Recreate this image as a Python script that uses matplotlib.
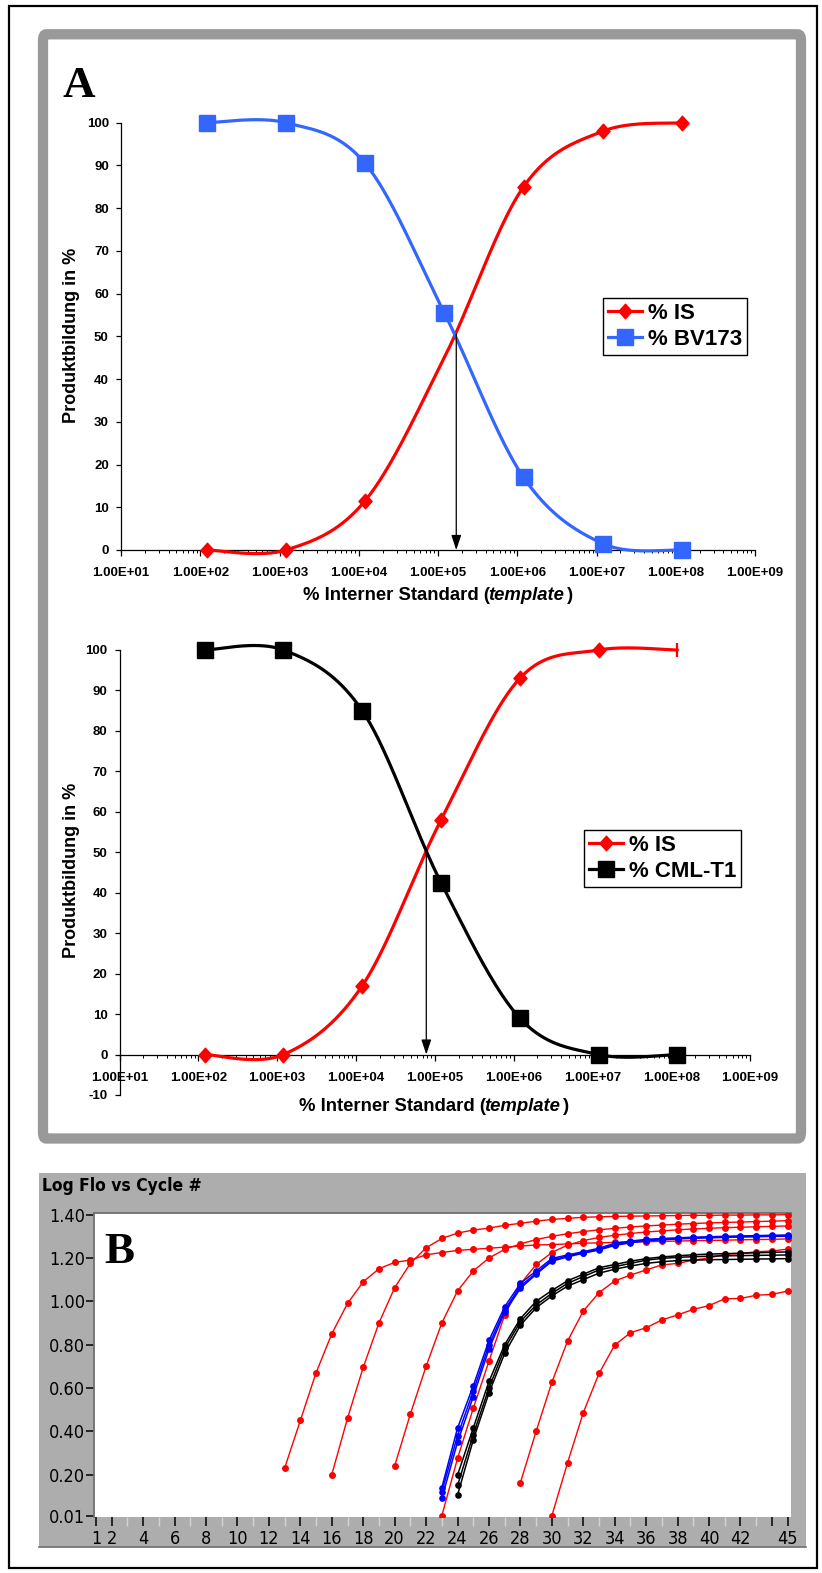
import numpy as np
import matplotlib
matplotlib.use("Agg")
import matplotlib.pyplot as plt
import matplotlib.font_manager as fm
from matplotlib.patches import Rectangle, FancyBboxPatch
from matplotlib.path import Path
from matplotlib.lines import Line2D
from matplotlib.ticker import FixedLocator, FuncFormatter, LogLocator, NullFormatter

W, H, DPI = 822, 1573, 100

# ---------------- data : panel A ----------------
template_x = [1.2e2, 1.2e3, 1.2e4, 1.2e5, 1.2e6, 1.2e7, 1.2e8]
top_is = [0, 0, 11.5, 45, 85, 98, 100]
top_bv173 = [100, 100, 90.5, 55.5, 17, 1.5, 0]
bot_is = [0, 0, 17, 58, 93, 100, 100]
bot_cml = [100, 100, 85, 42.5, 9, 0, 0]
arrow_top_x = 1.7e5
arrow_bot_x = 7.8e4
decade_ticks = [1e1, 1e2, 1e3, 1e4, 1e5, 1e6, 1e7, 1e8, 1e9]
top_yticks = [0, 10, 20, 30, 40, 50, 60, 70, 80, 90, 100]
bot_yticks = [-10, 0, 10, 20, 30, 40, 50, 60, 70, 80, 90, 100]

# ---------------- data : panel B ----------------
red_starts = [13, 16, 20, 23, 28, 30]
red_curves = [
    [0.23, 0.45, 0.67, 0.85, 0.99, 1.09, 1.15, 1.18, 1.19, 1.215, 1.225, 1.235, 1.24, 1.245,
     1.25, 1.255, 1.26, 1.262, 1.265, 1.268, 1.27, 1.272, 1.274, 1.275, 1.277, 1.278, 1.28,
     1.281, 1.282, 1.284, 1.285, 1.286, 1.288],
    [0.20, 0.46, 0.695, 0.90, 1.063, 1.175, 1.247, 1.29, 1.315, 1.329, 1.338, 1.351, 1.36,
     1.37, 1.378, 1.383, 1.388, 1.39, 1.392, 1.393, 1.394, 1.395, 1.396, 1.397, 1.397, 1.398,
     1.398, 1.399, 1.399, 1.40],
    [0.24, 0.48, 0.70, 0.90, 1.048, 1.14, 1.20, 1.24, 1.265, 1.285, 1.30, 1.312, 1.322, 1.33,
     1.337, 1.343, 1.348, 1.352, 1.356, 1.359, 1.362, 1.364, 1.366, 1.368, 1.37, 1.372],
    [0.01, 0.275, 0.506, 0.724, 0.937, 1.08, 1.17, 1.225, 1.26, 1.28, 1.295, 1.305, 1.313,
     1.32, 1.325, 1.33, 1.334, 1.337, 1.34, 1.342, 1.344, 1.346, 1.348],
    [0.163, 0.40, 0.626, 0.817, 0.955, 1.04, 1.094, 1.121, 1.145, 1.168, 1.175, 1.19, 1.20,
     1.217, 1.22, 1.229, 1.232, 1.241],
    [0.01, 0.255, 0.486, 0.667, 0.798, 0.855, 0.878, 0.914, 0.937, 0.963, 0.98, 1.012, 1.013,
     1.028, 1.032, 1.047],
]
blue_start = 23
blue_curves = [
    [0.14, 0.415, 0.61, 0.82, 0.975, 1.083, 1.14, 1.198, 1.214, 1.229, 1.245, 1.268, 1.278,
     1.286, 1.29, 1.293, 1.296, 1.298, 1.30, 1.302, 1.303, 1.305, 1.306],
    [0.12, 0.38, 0.585, 0.80, 0.96, 1.07, 1.13, 1.19, 1.21, 1.225, 1.24, 1.262, 1.274, 1.282,
     1.287, 1.29, 1.293, 1.295, 1.297, 1.299, 1.30, 1.302, 1.303],
    [0.09, 0.35, 0.56, 0.78, 0.95, 1.06, 1.125, 1.185, 1.205, 1.222, 1.237, 1.258, 1.27,
     1.279, 1.284, 1.288, 1.291, 1.293, 1.295, 1.297, 1.298, 1.30, 1.30],
]
black_start = 24
black_curves = [
    [0.198, 0.415, 0.63, 0.80, 0.92, 1.0, 1.05, 1.095, 1.125, 1.155, 1.17, 1.185, 1.197,
     1.205, 1.21, 1.215, 1.218, 1.22, 1.222, 1.224, 1.226, 1.228],
    [0.15, 0.385, 0.60, 0.783, 0.906, 0.983, 1.037, 1.083, 1.114, 1.145, 1.16, 1.175, 1.19,
     1.198, 1.203, 1.206, 1.208, 1.21, 1.211, 1.212, 1.213, 1.214],
    [0.106, 0.36, 0.577, 0.76, 0.89, 0.97, 1.025, 1.07, 1.10, 1.13, 1.148, 1.163, 1.175,
     1.183, 1.188, 1.19, 1.192, 1.193, 1.194, 1.195, 1.196, 1.197],
]
B_yticks = [0.01, 0.20, 0.40, 0.60, 0.80, 1.00, 1.20, 1.40]
B_ytick_labels = ["0.01", "0.20", "0.40", "0.60", "0.80", "1.00", "1.20", "1.40"]
B_xticks = [1, 2, 4, 6, 8, 10, 12, 14, 16, 18, 20, 22, 24, 26, 28, 30, 32, 34, 36, 38, 40,
            42, 44, 45]
B_xtick_labels = ["1", "2", "4", "6", "8", "10", "12", "14", "16", "18", "20", "22", "24",
                  "26", "28", "30", "32", "34", "36", "38", "40", "42", "", "45"]
B_minor_xticks = [3, 5, 7, 9, 11, 13, 15, 17, 19, 21, 23, 25, 27, 29, 31, 33, 35, 37, 39, 41, 43]

# ---------------- fonts ----------------
fonts = fm.fontManager.ttflist
names = {f.name for f in fonts}
SANS = "Liberation Sans" if "Liberation Sans" in names else "DejaVu Sans"
SERIF = "Liberation Serif" if "Liberation Serif" in names else "DejaVu Serif"
if "Liberation Sans Narrow" in names:
    NARROW, NSTRETCH = "Liberation Sans Narrow", "normal"
elif any(f.name == "DejaVu Sans" and f.stretch == "condensed" for f in fonts):
    NARROW, NSTRETCH = "DejaVu Sans", "condensed"
else:
    NARROW, NSTRETCH = SANS, "normal"
plt.rcParams["font.family"] = [SANS, "DejaVu Sans"]
plt.rcParams["axes.unicode_minus"] = False

RED = "#FF0000"
BLUE_A = "#3366FF"
DIAMOND = Path([(0, -1), (0.9, 0), (0, 1), (-0.9, 0), (0, -1)],
               [Path.MOVETO, Path.LINETO, Path.LINETO, Path.LINETO, Path.CLOSEPOLY])
MS_D, MS_S = 10.5, 11.3


def fx(px):
    return px / W


def fy(py):
    return 1 - py / H


def excel_smooth(x, y, n=40):
    P = np.column_stack([np.log10(np.asarray(x, float)), np.asarray(y, float)])
    out = [P[0]]
    t = np.linspace(0, 1, n)[1:, None]
    for i in range(len(P) - 1):
        p0 = P[i - 1] if i > 0 else P[i]
        p1, p2 = P[i], P[i + 1]
        p3 = P[i + 2] if i + 2 < len(P) else P[i + 1]
        c1 = p1 + (p2 - p0) / 6
        c2 = p2 - (p3 - p1) / 6
        B = (1 - t) ** 3 * p1 + 3 * (1 - t) ** 2 * t * c1 + 3 * (1 - t) * t ** 2 * c2 + t ** 3 * p2
        out.extend(B)
    out = np.array(out)
    return 10 ** out[:, 0], out[:, 1]


fig = plt.figure(figsize=(W / DPI, H / DPI), dpi=DPI)
fig.patch.set_facecolor("white")

# outer border
fig.add_artist(Rectangle((fx(9), fy(1568)), fx(817) - fx(9), fy(6) - fy(1568),
                         transform=fig.transFigure, fill=False, ec="black", lw=1.6, zorder=20))
# panel A grey frame
fig.add_artist(FancyBboxPatch((fx(43), fy(1138.5)), fx(801) - fx(43), fy(34.3) - fy(1138.5),
                              boxstyle="round,pad=0,rounding_size=0.004",
                              transform=fig.transFigure, fc="white", ec="#999999", lw=7.4,
                              zorder=-5))
# panel B grey background
fig.add_artist(Rectangle((fx(39), fy(1547)), fx(806) - fx(39), fy(1173) - fy(1547),
                         transform=fig.transFigure, fc="#ADADAD", ec="none", zorder=-5))
fig.add_artist(Line2D([fx(39), fx(806)], [fy(1546.5), fy(1546.5)], transform=fig.transFigure,
                      color="#6E6E6E", lw=1.2, zorder=-4))


def setup_A(ax, yticks, ylim):
    ax.set_facecolor("none")
    ax.set_xscale("log")
    ax.set_xlim(1e1, 1e9)
    ax.set_ylim(*ylim)
    for s in ("top", "right"):
        ax.spines[s].set_visible(False)
    ax.spines["bottom"].set_position(("data", 0))
    for s in ("left", "bottom"):
        ax.spines[s].set_linewidth(0.9)
    ax.xaxis.set_major_locator(FixedLocator(decade_ticks))
    ax.xaxis.set_major_formatter(FuncFormatter(lambda v, p: f"{v:.2E}"))
    ax.xaxis.set_minor_locator(LogLocator(base=10, subs=np.arange(2, 10)))
    ax.xaxis.set_minor_formatter(NullFormatter())
    ax.yaxis.set_major_locator(FixedLocator(yticks))
    ax.tick_params(axis="x", which="major", direction="out", length=4, width=0.9, pad=8.5,
                   labelsize=9.5)
    ax.tick_params(axis="x", which="minor", direction="out", length=2.2, width=0.7)
    ax.tick_params(axis="y", which="major", direction="out", length=3.8, width=0.9, pad=5,
                   labelsize=9.5)
    for lab in ax.get_xticklabels() + ax.get_yticklabels():
        lab.set_fontweight("bold")


def draw_series(ax, x, y, color, marker, ms, skip=(), z=3):
    sx, sy = excel_smooth(x, y)
    ax.plot(sx, sy, color=color, lw=2.3, clip_on=False, zorder=z, solid_capstyle="round")
    idx = [i for i in range(len(x)) if i not in skip]
    ax.plot([x[i] for i in idx], [y[i] for i in idx], ls="none", marker=marker, ms=ms,
            color=color, mec=color, clip_on=False, zorder=z)


def xlabel_composite(xc, ybase):
    parts = [("% Interner Standard (", "normal"), ("template", "italic"), (")", "normal")]
    texts = [fig.text(0, fy(ybase), s, fontsize=13.3, fontweight="bold", fontstyle=st,
                      va="baseline", ha="left") for s, st in parts]
    r = fig.canvas.get_renderer()
    widths = [t.get_window_extent(r).width for t in texts]
    gaps = [-1.5, 2.5, 0]
    total = sum(widths) + sum(gaps[:-1])
    x = xc - total / 2
    for t, w, g in zip(texts, widths, gaps):
        t.set_x(fx(x))
        x += w + g


legend_kw = dict(loc="upper left", bbox_transform=fig.transFigure, borderaxespad=0,
                 fancybox=False, framealpha=1, edgecolor="black",
                 prop=dict(family=SANS, weight="bold", size=16), borderpad=0.22,
                 labelspacing=0.22, handlelength=1.55, handletextpad=0.25, numpoints=1)
arrow_kw = dict(arrowstyle="-|>,head_length=0.6,head_width=0.2", color="black", lw=0.9,
                shrinkA=0, shrinkB=0, mutation_scale=15)

# ---------- top chart ----------
ax1 = fig.add_axes([fx(121), fy(550), fx(755) - fx(121), fy(122.7) - fy(550)])
setup_A(ax1, top_yticks, (0, 100))
draw_series(ax1, template_x, top_is, RED, DIAMOND, MS_D, skip=(3,), z=3)
draw_series(ax1, template_x, top_bv173, BLUE_A, "s", MS_S, z=4)
ax1.annotate("", xy=(arrow_top_x, 0), xytext=(arrow_top_x, 50.5), arrowprops=arrow_kw,
             zorder=6)
h1 = [Line2D([], [], color=RED, lw=2.3, marker=DIAMOND, ms=MS_D),
      Line2D([], [], color=BLUE_A, lw=2.3, marker="s", ms=MS_S)]
leg1 = ax1.legend(h1, ["% IS", "% BV173"], bbox_to_anchor=(fx(603), fy(298)), **legend_kw)
leg1.get_frame().set_linewidth(1.0)
fig.text(fx(71), fy(335), "Produktbildung in %", rotation=90, ha="center", va="center",
         fontsize=13, fontweight="bold")
xlabel_composite(438, 600)

# ---------- bottom chart ----------
ax2 = fig.add_axes([fx(119.6), fy(1095), fx(750) - fx(119.6), fy(650) - fy(1095)])
setup_A(ax2, bot_yticks, (-10, 100))
draw_series(ax2, template_x, bot_is, RED, DIAMOND, MS_D, skip=(6,), z=3)
ax2.plot([template_x[6]], [bot_is[6]], ls="none", marker="|", ms=9.5, mew=1.6, color=RED,
         clip_on=False, zorder=3)
draw_series(ax2, template_x, bot_cml, "black", "s", MS_S, z=4)
ax2.annotate("", xy=(arrow_bot_x, 0), xytext=(arrow_bot_x, 50), arrowprops=arrow_kw,
             zorder=6)
h2 = [Line2D([], [], color=RED, lw=2.3, marker=DIAMOND, ms=MS_D),
      Line2D([], [], color="black", lw=2.3, marker="s", ms=MS_S)]
leg2 = ax2.legend(h2, ["% IS", "% CML-T1"], bbox_to_anchor=(fx(584), fy(830)), **legend_kw)
leg2.get_frame().set_linewidth(1.0)
fig.text(fx(71), fy(870), "Produktbildung in %", rotation=90, ha="center", va="center",
         fontsize=13, fontweight="bold")
xlabel_composite(434, 1111)

fig.text(fx(62), fy(97), "A", family=SERIF, fontweight="bold", fontsize=32.5, va="baseline",
         ha="left")

# ---------- panel B ----------
axB = fig.add_axes([fx(94.4), fy(1517), fx(790.8) - fx(94.4), fy(1213) - fy(1517)])
axB.set_facecolor("white")
axB.set_xlim(0.898, 45.2)
axB.set_ylim(0.0042, 1.4077)
for s in ("right", "bottom"):
    axB.spines[s].set_visible(False)
for s in ("top", "left"):
    axB.spines[s].set_color("#707070")
    axB.spines[s].set_linewidth(1.3)
axB.xaxis.set_major_locator(FixedLocator(B_xticks))
axB.set_xticklabels(B_xtick_labels)
axB.xaxis.set_minor_locator(FixedLocator(B_minor_xticks))
axB.yaxis.set_major_locator(FixedLocator(B_yticks))
axB.set_yticklabels(B_ytick_labels)
axB.tick_params(axis="x", which="major", direction="out", length=6.5, width=1.1, pad=2.5,
                labelsize=13, color="black")
axB.tick_params(axis="x", which="minor", direction="out", length=6.5, width=1.0,
                color="#D9D2D2")
axB.tick_params(axis="y", which="major", direction="out", length=5.5, width=1.1, pad=1,
                labelsize=13)
for lab in axB.get_xticklabels() + axB.get_yticklabels():
    lab.set_family([NARROW, SANS])
    lab.set_fontstretch(NSTRETCH)

for st, vals in zip(red_starts, red_curves):
    cyc = np.arange(st, st + len(vals))
    axB.plot(cyc, vals, color=RED, lw=1.0, marker="o", ms=5.0, mew=0, zorder=3)
for vals in blue_curves:
    cyc = np.arange(blue_start, blue_start + len(vals))
    axB.plot(cyc, vals, color="#0000FF", lw=1.1, marker="o", ms=4.8, mew=0, zorder=4)
for vals in black_curves:
    cyc = np.arange(black_start, black_start + len(vals))
    axB.plot(cyc, vals, color="black", lw=1.1, marker="o", ms=4.8, mew=0, zorder=5)

fig.text(fx(42), fy(1186), "Log Flo vs Cycle #", family=[NARROW, SANS], fontweight="bold",
         fontstretch=NSTRETCH, fontsize=12.5, va="center", ha="left")
fig.text(fx(104), fy(1263), "B", family=SERIF, fontweight="bold", fontsize=32.5,
         va="baseline", ha="left")

fig.savefig("out.png", dpi=DPI, facecolor="white")
